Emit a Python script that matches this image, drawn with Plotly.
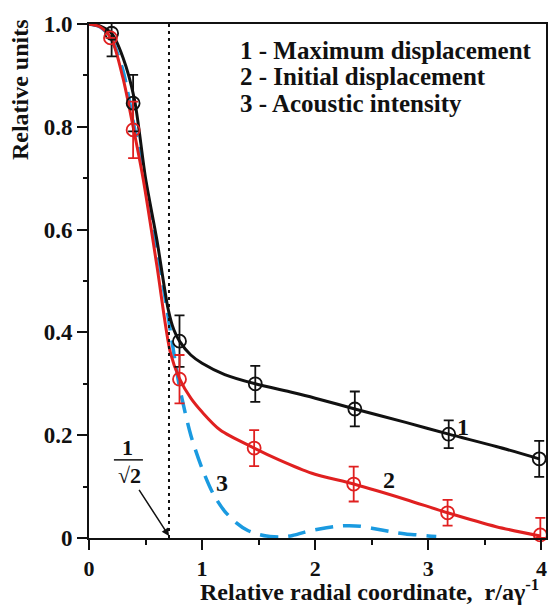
import numpy as np
import plotly.graph_objects as go

# ---------------- data ----------------
# curve 1 : maximum displacement (black solid)
c1_x = [0, 0.1, 0.2, 0.3, 0.4, 0.5, 0.6, 0.7, 0.75, 0.8, 0.9, 1.0, 1.2, 1.47, 1.8, 2.0, 2.35, 2.8, 3.18, 3.6, 3.98]
c1_y = [1.0, 0.996, 0.982, 0.935, 0.855, 0.70, 0.58, 0.445, 0.405, 0.383, 0.356, 0.34, 0.318, 0.30, 0.283, 0.272, 0.251, 0.225, 0.202, 0.178, 0.154]

# curve 2 : initial displacement (red solid)
c2_x = [0, 0.1, 0.2, 0.3, 0.39, 0.48, 0.6, 0.72, 0.8, 0.9, 1.0, 1.16, 1.46, 1.68, 1.97, 2.34, 2.8, 3.17, 3.6, 3.99]
c2_y = [1.0, 0.994, 0.97, 0.895, 0.80, 0.697, 0.53, 0.36, 0.31, 0.272, 0.245, 0.21, 0.175, 0.152, 0.126, 0.105, 0.075, 0.049, 0.022, 0.004]

# curve 3 : acoustic intensity (blue dashed)
c3_x = [0, 0.1, 0.2, 0.3, 0.4, 0.5, 0.6, 0.7, 0.76, 0.8, 0.9, 1.0, 1.1, 1.2, 1.3, 1.4, 1.5, 1.6, 1.7, 1.8, 1.9,
        2.0, 2.1, 2.2, 2.3, 2.4, 2.5, 2.6, 2.7, 2.8, 2.9, 3.0, 3.07]
c3_y = [1.0, 0.994, 0.97, 0.91, 0.80, 0.69, 0.565, 0.43, 0.346, 0.294, 0.20, 0.135, 0.085, 0.052, 0.03, 0.015, 0.007, 0.003, 0.002, 0.005, 0.011,
        0.016, 0.02, 0.023, 0.024, 0.023, 0.019, 0.015, 0.011, 0.008, 0.006, 0.004, 0.003]

# measured points with error bars
p1_x = [0.2, 0.39, 0.8, 1.47, 2.35, 3.18, 3.98]
p1_y = [0.982, 0.846, 0.383, 0.30, 0.251, 0.202, 0.154]
p1_err = [0.045, 0.055, 0.05, 0.035, 0.034, 0.027, 0.035]

p2_x = [0.19, 0.39, 0.8, 1.46, 2.34, 3.17, 3.99]
p2_y = [0.973, 0.794, 0.309, 0.175, 0.105, 0.049, 0.006]
p2_err_plus = [0.0, 0.055, 0.047, 0.035, 0.034, 0.025, 0.033]
p2_err_minus = [0.0, 0.055, 0.047, 0.035, 0.034, 0.025, 0.006]

x_ticks = [0, 1, 2, 3, 4]
x_ticktext = ["0", "1", "2", "3", "4"]
y_ticks = [0, 0.2, 0.4, 0.6, 0.8, 1.0]
y_ticktext = ["0", "0.2", "0.4", "0.6", "0.8", "1.0"]

legend_lines = ["1 - Maximum displacement", "2 - Initial displacement", "3 - Acoustic intensity"]
curve_labels = ["1", "2", "3"]

# ---------------- style ----------------
BLACK = "#111111"
RED = "#e02020"
BLUE = "#1a9ae0"
FONT = "Liberation Serif, Times New Roman, DejaVu Serif, serif"

fig = go.Figure()

fig.add_trace(go.Scatter(x=c3_x, y=c3_y, mode="lines", line=dict(color=BLUE, width=3.5, dash="18px,10px", shape="spline", smoothing=0.8),
                         hoverinfo="skip", showlegend=False))
fig.add_trace(go.Scatter(x=c1_x, y=c1_y, mode="lines", line=dict(color=BLACK, width=3, shape="spline", smoothing=0.8),
                         hoverinfo="skip", showlegend=False))
fig.add_trace(go.Scatter(x=c2_x, y=c2_y, mode="lines", line=dict(color=RED, width=3, shape="spline", smoothing=0.8),
                         hoverinfo="skip", showlegend=False))

fig.add_trace(go.Scatter(x=p1_x, y=p1_y, mode="markers", cliponaxis=False,
                         marker=dict(symbol="circle-open", size=13, color=BLACK, line=dict(width=1.8, color=BLACK)),
                         error_y=dict(type="data", array=p1_err, color=BLACK, thickness=1.8, width=5),
                         showlegend=False))
fig.add_trace(go.Scatter(x=p2_x, y=p2_y, mode="markers", cliponaxis=False,
                         marker=dict(symbol="circle-open", size=13, color=RED, line=dict(width=1.8, color=RED)),
                         error_y=dict(type="data", symmetric=False, array=p2_err_plus, arrayminus=p2_err_minus,
                                      color=RED, thickness=1.8, width=5),
                         showlegend=False))

# dotted line at 1/sqrt(2)
xr = 1 / np.sqrt(2)
fig.add_shape(type="line", x0=xr, x1=xr, y0=0, y1=1, xref="x", yref="y",
              line=dict(color=BLACK, width=2, dash="3px,4px"))

tickfont = dict(family=FONT, size=22, color=BLACK, weight="bold")
fig.update_xaxes(range=[0, 4.04], showline=True, linewidth=2, linecolor=BLACK, mirror=True,
                 ticks="outside", ticklen=10, tickwidth=2, tickcolor=BLACK,
                 tickvals=x_ticks, ticktext=x_ticktext, tickfont=tickfont,
                 minor=dict(dtick=0.5, ticks="outside", ticklen=5, tickwidth=2, tickcolor=BLACK),
                 showgrid=False, zeroline=False)
fig.update_yaxes(range=[0, 1.0], showline=True, linewidth=2, linecolor=BLACK, mirror=True,
                 ticks="outside", ticklen=10, tickwidth=2, tickcolor=BLACK,
                 tickvals=y_ticks, ticktext=y_ticktext, tickfont=dict(family=FONT, size=23, color=BLACK, weight="bold"),
                 minor=dict(dtick=0.1, ticks="outside", ticklen=4, tickwidth=2, tickcolor=BLACK),
                 showgrid=False, zeroline=False)

ann = []
bold = dict(family=FONT, size=24, color=BLACK, weight="bold")
legfont = dict(family=FONT, size=25, color=BLACK, weight="bold")
# axis titles
ann.append(dict(text="Relative units", xref="paper", yref="paper", x=-0.1525, y=0.872,
                xanchor="center", yanchor="middle", textangle=-90, showarrow=False, font=bold))
ann.append(dict(text="Relative radial coordinate,\u00a0\u00a0r/a\u03b3<sup>-1</sup>", xref="paper", yref="paper",
                x=0.614, y=-0.102, xanchor="center", yanchor="middle", showarrow=False, font=bold))
# legend text
for txt, yy in zip(legend_lines, [0.949, 0.897, 0.846]):
    ann.append(dict(text=txt, xref="paper", yref="paper", x=0.325, y=yy, xanchor="left", yanchor="middle",
                    showarrow=False, font=legfont))
# curve labels
for txt, (lx, ly) in zip(curve_labels, [(3.31, 0.216), (2.65, 0.113), (1.18, 0.107)]):
    ann.append(dict(text=txt, x=lx, y=ly, xref="x", yref="y", xanchor="center", yanchor="middle",
                    showarrow=False, font=bold))
# 1/sqrt(2) label with arrow to the x axis
frac = dict(family=FONT, size=22, color=BLACK, weight="bold")
ann.append(dict(text="1", xref="paper", yref="paper", x=0.085, y=0.177, xanchor="center", yanchor="middle",
                showarrow=False, font=frac))
fig.add_shape(type="line", xref="paper", yref="paper", x0=0.0545, x1=0.118, y0=0.152, y1=0.152,
              line=dict(color=BLACK, width=1.5))
ann.append(dict(text="\u221a2", x=xr, y=0.004, xref="x", yref="y", showarrow=True, ax=-39, ay=-60,
                arrowhead=2, arrowsize=1, arrowwidth=1.5, arrowcolor=BLACK, font=frac))

fig.update_layout(width=549, height=606, margin=dict(l=89, r=1, t=24, b=68),
                  paper_bgcolor="white", plot_bgcolor="white", annotations=ann, showlegend=False,
                  font=dict(family=FONT, color=BLACK))

fig.write_html("out.html", config={"displayModeBar": False},
               post_script="document.body.style.margin='0';document.body.style.padding='0';")
